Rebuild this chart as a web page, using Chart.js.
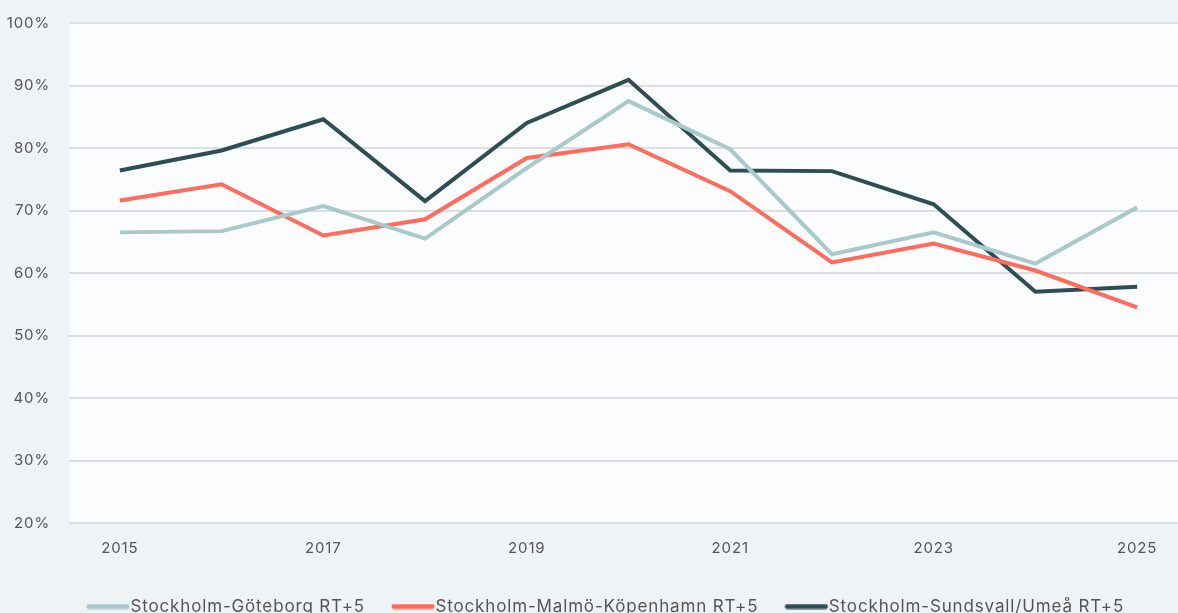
<!DOCTYPE html>
<html><head><meta charset="utf-8">
<script src="https://cdn.jsdelivr.net/npm/chart.js@4"></script>
<style>
html,body{margin:0;padding:0;background:#eef3f5;overflow:hidden;width:1178px;height:613px;}
#wrap{position:absolute;left:0;top:0;width:1212px;height:625px;}
</style></head>
<body>
<div id="wrap"><canvas id="c" width="1212" height="625"></canvas></div>
<script>
const years = ['2015','2016','2017','2018','2019','2020','2021','2022','2023','2024','2025'];
const goteborg = [66.5, 66.7, 70.7, 65.5, 76.8, 87.5, 79.8, 63.0, 66.5, 61.5, 70.5];
const malmo = [71.6, 74.2, 66.0, 68.6, 78.4, 80.6, 73.1, 61.7, 64.7, 60.4, 54.5];
const sundsvall = [76.4, 79.6, 84.6, 71.5, 84.0, 90.9, 76.4, 76.3, 71.0, 57.0, 57.8];
const seriesNames = ['Stockholm-Göteborg RT+5','Stockholm-Malmö-Köpenhamn RT+5','Stockholm-Sundsvall/Umeå RT+5'];
const yTicks = [20,30,40,50,60,70,80,90,100];

const LS = '0.85px';
const spacing = {
  id:'spacing',
  beforeLayout(chart){ chart.ctx.letterSpacing=LS; },
  afterLayout(chart){ if (chart.legend){ chart.legend.left += 15; chart.legend.right += 15; } },
  beforeDraw(chart){ chart.ctx.letterSpacing=LS; }
};
const plotBg = {
  id:'plotBg',
  beforeDraw(chart){
    const {ctx, chartArea:a} = chart;
    ctx.save(); ctx.fillStyle='#fafcfd';
    ctx.fillRect(a.left, a.top, a.right-a.left, a.bottom-a.top);
    ctx.restore();
  }
};
function legendLine(color){
  const c = document.createElement('canvas');
  c.width = 46; c.height = 6;
  const g = c.getContext('2d');
  g.strokeStyle = color; g.lineWidth = 5; g.lineCap = 'round';
  g.beginPath(); g.moveTo(4,3); g.lineTo(42,3); g.stroke();
  return c;
}
const FONT = 'Inter, "Open Sans", sans-serif';
function ds(label, data, color){
  return {label, data, borderColor:color, backgroundColor:color, borderWidth:4, pointRadius:0, pointStyle:legendLine(color), tension:0, fill:false};
}
new Chart(document.getElementById('c'), {
  type:'line',
  data:{labels:years, datasets:[
    ds(seriesNames[0], goteborg, '#a9c9ca'),
    ds(seriesNames[1], malmo, '#ff6b5c'),
    ds(seriesNames[2], sundsvall, '#2f4d55')
  ]},
  options:{
    responsive:false, animation:false,
    layout:{padding:{left:0,right:24,top:23,bottom:0}},
    plugins:{
      legend:{position:'bottom', labels:{color:'#555', font:{family:FONT,size:17}, usePointStyle:true, pointStyleWidth:28, boxHeight:6, padding:34}},
      tooltip:{enabled:false}
    },
    scales:{
      x:{offset:true, grid:{display:false}, border:{display:false},
         afterFit(s){ s.height -= 1; },
         ticks:{color:'#555', font:{family:FONT,size:15}, autoSkip:false, maxRotation:0, padding:8,
           callback:function(v,i){return i%2===0 ? years[i] : '';}}},
      y:{min:20, max:100, afterBuildTicks:(ax)=>{ax.ticks=yTicks.map(v=>({value:v}));},
         afterFit(s){ s.width = 69; s.paddingTop = 9; s.paddingBottom = 9; },
         grid:{color:'#dcdfe1', lineWidth:2, drawTicks:false}, border:{display:false},
         ticks:{color:'#555', font:{family:FONT,size:15}, padding:19, callback:v=>v+'%'}}
    }
  },
  plugins:[spacing, plotBg]
});
</script>
</body></html>
